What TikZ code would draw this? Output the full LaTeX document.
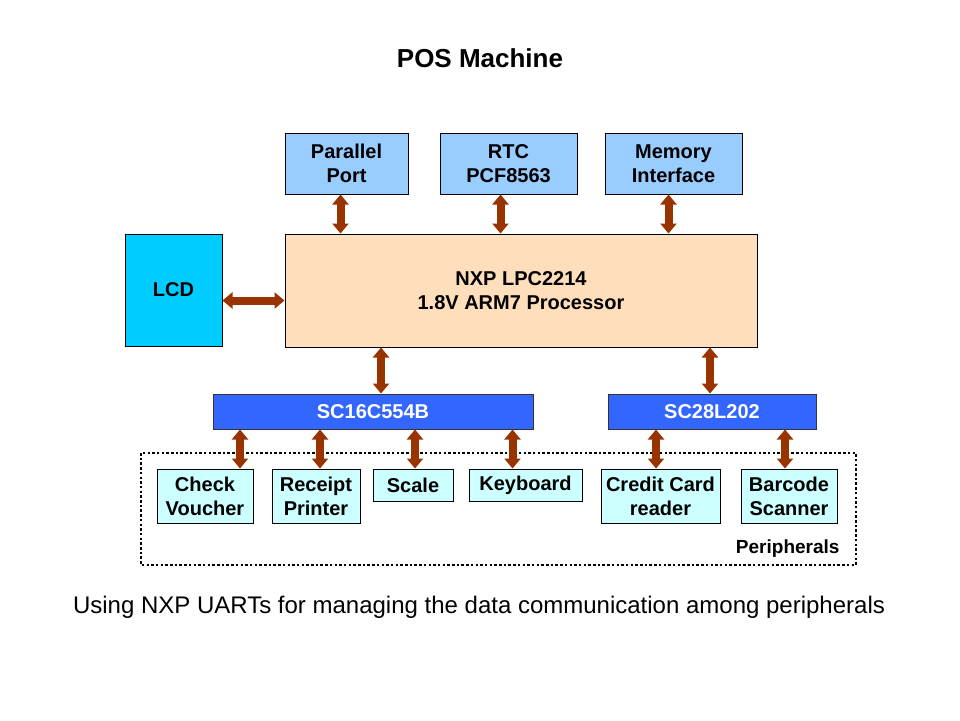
\documentclass[tikz,border=0pt]{standalone}
\usepackage{fontspec}
\setmainfont{Liberation Sans}
\usetikzlibrary{arrows.meta}
\definecolor{topblue}{RGB}{153,204,255}
\definecolor{lcdblue}{RGB}{0,204,255}
\definecolor{peach}{RGB}{255,222,188}
\definecolor{uartblue}{RGB}{51,102,255}
\definecolor{perifill}{RGB}{204,255,255}
\definecolor{busbrown}{RGB}{153,51,0}
\tikzset{
  blk/.style={draw=black, line width=1pt, inner sep=0pt, align=center,
    font=\fontsize{20}{24}\selectfont\bfseries},
  topbox/.style={blk, fill=topblue},
  uart/.style={blk, fill=uartblue, text=white, draw=black!80},
  peri/.style={blk, fill=perifill},
  bus/.style={draw=busbrown, line width=8pt,
    {Triangle[width=16pt,length=10pt,fill=busbrown]}-{Triangle[width=16pt,length=10pt,fill=busbrown]}},
  dotbox/.style={draw=black, line width=2.5pt, dash pattern=on 2.5pt off 2.2pt}
}
\begin{document}
\begin{tikzpicture}[x=1pt,y=-1pt]
\useasboundingbox (0,0) rectangle (960,720);
\fill[white] (0,0) rectangle (960,720);

\node[anchor=base] (title) at (480,67) {\fontsize{26}{30}\selectfont\bfseries POS Machine};

\node[topbox, minimum width=123pt, minimum height=61pt] (par) at (346.5,163.5) {Parallel\\Port};
\node[topbox, minimum width=137pt, minimum height=61pt] (rtc) at (508.5,163.5) {RTC\\PCF8563};
\node[topbox, minimum width=137pt, minimum height=61pt] (mem) at (673.5,163.5) {Memory\\Interface};

\node[blk, fill=lcdblue, minimum width=97pt, minimum height=112pt] (lcd) at (173.5,290) {LCD};
\node[blk, fill=peach, minimum width=472pt, minimum height=113pt] (nxp) at (521,290.5) {NXP LPC2214\\1.8V ARM7 Processor};

\node[uart, minimum width=320pt, minimum height=35pt] (sca) at (373,411.5) {SC16C554B};
\node[uart, minimum width=208pt, minimum height=35pt] (scb) at (712,411.5) {SC28L202};

\draw[dotbox] (141,453) rectangle (856,565);
\node[anchor=east, font=\fontsize{19}{22}\selectfont\bfseries] (plabel) at (843,549) {Peripherals};

\node[peri, minimum width=96pt, minimum height=54pt] (cv) at (205,496) {Check\\Voucher};
\node[peri, minimum width=88pt, minimum height=54pt] (rp) at (316,496) {Receipt\\Printer};
\node[peri, minimum width=80pt, minimum height=32pt] (sc) at (413,485) {Scale};
\node[peri, minimum width=113pt, minimum height=32pt] (kb) at (525.5,485) {Keyboard};
\node[peri, minimum width=119pt, minimum height=54pt] (cc) at (660.5,496) {Credit Card\\reader};
\node[peri, minimum width=96pt, minimum height=54pt] (bs) at (789,496) {Barcode\\Scanner};

% buses
\draw[bus] (par.south -| 340.5,0) -- (nxp.north -| 340.5,0);
\draw[bus] (rtc.south -| 500.5,0) -- (nxp.north -| 500.5,0);
\draw[bus] (mem.south -| 668.5,0) -- (nxp.north -| 668.5,0);
\draw[bus] (lcd.east |- 0,300.5) -- (nxp.west |- 0,300.5);
\draw[bus] (nxp.south -| 381,0) -- (sca.north -| 381,0);
\draw[bus] (nxp.south -| 710,0) -- (scb.north -| 710,0);
\draw[bus] (sca.south -| 240,0) -- (cv.north -| 240,0);
\draw[bus] (sca.south -| 320,0) -- (rp.north -| 320,0);
\draw[bus] (sca.south -| 415,0) -- (sc.north -| 415,0);
\draw[bus] (sca.south -| 512.5,0) -- (kb.north -| 512.5,0);
\draw[bus] (scb.south -| 656,0) -- (cc.north -| 656,0);
\draw[bus] (scb.south -| 785,0) -- (bs.north -| 785,0);

\node[anchor=base] (caption) at (479,613) {\fontsize{24}{28}\selectfont Using NXP UARTs for managing the data communication among peripherals};
\end{tikzpicture}
\end{document}
